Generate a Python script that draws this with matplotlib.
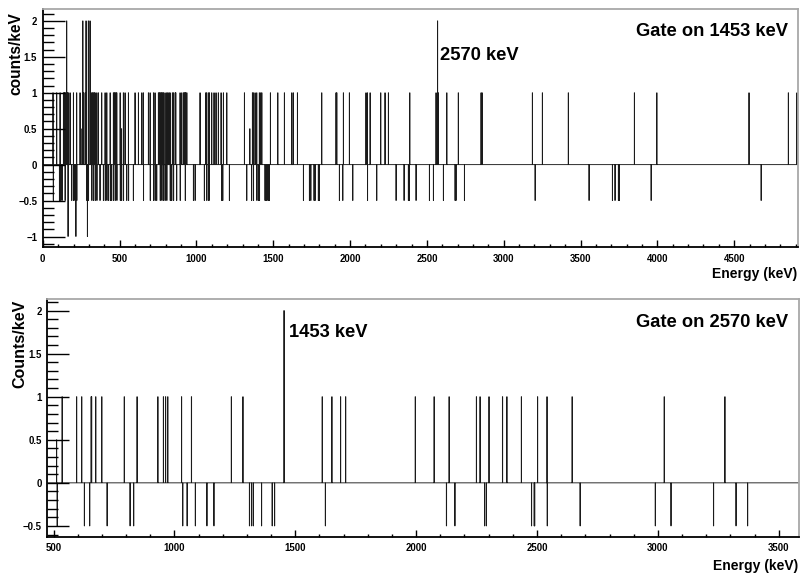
import numpy as np
import matplotlib
matplotlib.use('Agg')
import matplotlib.pyplot as plt
from matplotlib.ticker import MultipleLocator
from matplotlib import font_manager

# ---------------- data (energies in keV, 1 keV bins) ----------------
top_range = (0, 4912)
top_level2 = [155, 260, 281, 296, 307, 2569]
top_level1 = [66, 90, 112, 134, 140, 144, 150, 160, 166, 177, 199, 220, 242, 264, 275,
              318, 322, 329, 335, 340, 351, 361, 383, 405, 416, 438, 459, 465, 470, 476,
              481, 503, 524, 535, 557, 600, 622, 644, 654, 687, 698, 720, 730, 752, 758,
              763, 769, 774, 780, 785, 795, 806, 813, 821, 828, 843, 850, 861, 865, 893,
              904, 915, 921, 926, 930, 937, 1023, 1060, 1066, 1077, 1084, 1099, 1114, 1127,
              1142, 1160, 1175, 1197, 1312, 1364, 1370, 1381, 1392, 1409, 1418, 1425, 1481,
              1529, 1572, 1620, 1630, 1657, 1815, 1908, 1913, 1956, 1995, 2103, 2112, 2130,
              2199, 2227, 2249, 2388, 2559, 2574, 2629, 2704, 2852, 2859, 3186, 3251, 3420,
              3850, 3996, 4596, 4852, 4908]
top_level05 = [255, 348, 512, 1347]
top_levelm05 = [68, 108, 116, 125, 144, 188, 199, 209, 220, 286, 296, 318, 329, 340, 351,
                372, 394, 405, 416, 427, 438, 448, 459, 470, 481, 503, 513, 524, 546, 557,
                589, 654, 698, 720, 730, 741, 763, 774, 785, 795, 806, 828, 835, 839, 850,
                871, 893, 926, 980, 991, 1051, 1067, 1077, 1082, 1164, 1171, 1214, 1327,
                1359, 1370, 1392, 1403, 1409, 1446, 1453, 1459, 1468, 1474, 1696, 1735,
                1744, 1765, 1772, 1793, 1800, 1930, 1952, 2017, 2112, 2173, 2299, 2351,
                2379, 2385, 2429, 2516, 2542, 2607, 2683, 2689, 2744, 3204, 3555, 3707,
                3724, 3746, 3752, 3959, 4675]
top_levelm1 = [164, 215, 290]

bot_range = (474, 3584)
bot_level2 = [1453]
bot_level1 = [535, 595, 616, 655, 657, 674, 699, 792, 845, 931, 954, 963, 972, 1029,
              1070, 1235, 1283, 1611, 1651, 1687, 1708, 1996, 2074, 2136, 2249, 2264,
              2301, 2357, 2375, 2435, 2502, 2541, 2645, 3026, 3277]
bot_level05 = [512]
bot_levelm05 = [514, 515, 627, 649, 721, 816, 831, 1034, 1052, 1086, 1134, 1163, 1310,
                1319, 1326, 1360, 1404, 1414, 1624, 2125, 2160, 2283, 2290, 2477, 2488,
                2490, 2541, 2678, 2989, 3054, 3230, 3323, 3371]

top_xticks = [0, 500, 1000, 1500, 2000, 2500, 3000, 3500, 4000, 4500]
bot_xticks = [500, 1000, 1500, 2000, 2500, 3000, 3500]
top_yticks = [-1, -0.5, 0, 0.5, 1, 1.5, 2]
top_ylabels = ['\u22121', '\u22120.5', '0', '0.5', '1', '1.5', '2']
bot_yticks = [-0.5, 0, 0.5, 1, 1.5, 2]
bot_ylabels = ['\u22120.5', '0', '0.5', '1', '1.5', '2']


def build(lo, hi, groups):
    edges = np.arange(lo, hi + 1)
    vals = np.zeros(len(edges) - 1)
    for level, positions in groups:
        for p in positions:
            i = int(p) - lo
            while vals[i] != 0:
                i += 1
            vals[i] = level
    return edges, vals

# ---------------- fonts ----------------
names = {f.name for f in font_manager.fontManager.ttflist}
if 'Liberation Sans Narrow' in names:
    NARROW, TSIZE = 'Liberation Sans Narrow', 7.6
else:
    NARROW, TSIZE = 'Liberation Sans', 6.9
MAIN = 'Liberation Sans'

W, H = 801, 579
fig = plt.figure(figsize=(W / 100, H / 100), dpi=100)


def px_axes(x0, x1, ytop, ybot):
    return fig.add_axes([x0 / W, 1 - ybot / H, (x1 - x0) / W, (ybot - ytop) / H])


def style(ax, xticks, yticks, ylabels):
    for s in ('top', 'right'):
        ax.spines[s].set_color('#a8a8a8')
        ax.spines[s].set_linewidth(1.3)
    for s in ('left', 'bottom'):
        ax.spines[s].set_color('black')
        ax.spines[s].set_linewidth(1.3)
    ax.set_xticks(xticks)
    ax.set_xticklabels([str(t) for t in xticks])
    ax.set_yticks(yticks)
    ax.set_yticklabels(ylabels)
    ax.xaxis.set_minor_locator(MultipleLocator(100))
    ax.yaxis.set_minor_locator(MultipleLocator(0.1))
    ax.tick_params(axis='y', which='major', direction='in', length=16, width=1.0, pad=4.0)
    ax.tick_params(axis='y', which='minor', direction='in', length=8, width=1.0)
    ax.tick_params(axis='x', which='major', direction='in', length=5, width=1.0, pad=4.5)
    ax.tick_params(axis='x', which='minor', direction='in', length=2.5, width=1.0)
    for lab in ax.get_xticklabels() + ax.get_yticklabels():
        lab.set_fontfamily(NARROW)
        lab.set_fontweight('bold')
        lab.set_fontsize(TSIZE)


# ---------------- top panel ----------------
ax1 = px_axes(42.8, 797.5, 9.3, 247.3)
e1, v1 = build(top_range[0], top_range[1],
               [(2, top_level2), (1, top_level1), (0.5, top_level05),
                (-0.5, top_levelm05), (-1, top_levelm1)])
ax1.stairs(v1, e1, baseline=None, color='#1a1a1a', linewidth=0.65)
ax1.set_xlim(*top_range)
ax1.set_ylim(-1.15, 2.16)
style(ax1, top_xticks, top_yticks, top_ylabels)

# ---------------- bottom panel ----------------
ax2 = px_axes(47.3, 799.0, 299.3, 536.7)
e2, v2 = build(bot_range[0], bot_range[1],
               [(2, bot_level2), (1, bot_level1), (0.5, bot_level05), (-0.5, bot_levelm05)])
ax2.stairs(v2, e2, baseline=None, color='#1a1a1a', linewidth=0.65)
ax2.set_xlim(*bot_range)
ax2.set_ylim(-0.625, 2.13)
style(ax2, bot_xticks, bot_yticks, bot_ylabels)


def ftext(x, y, s, **kw):
    fig.text(x / W, 1 - y / H, s, fontfamily=MAIN, fontweight='bold', **kw)


ftext(15.5, 12, 'counts/keV', rotation=90, ha='center', va='top', fontsize=11.2)
ftext(19.5, 300, 'Counts/keV', rotation=90, ha='center', va='top', fontsize=11.5)
ftext(797, 274, 'Energy (keV)', ha='right', va='center', fontsize=10)
ftext(798.5, 566, 'Energy (keV)', ha='right', va='center', fontsize=10)
ftext(788.3, 35.7, 'Gate on 1453 keV', ha='right', va='baseline', fontsize=13.2)
ftext(440, 60, '2570 keV', ha='left', va='baseline', fontsize=13.2)
ftext(289, 337.3, '1453 keV', ha='left', va='baseline', fontsize=13.2)
ftext(788.3, 327.3, 'Gate on 2570 keV', ha='right', va='baseline', fontsize=13.2)

fig.savefig('out.png', dpi=100)
